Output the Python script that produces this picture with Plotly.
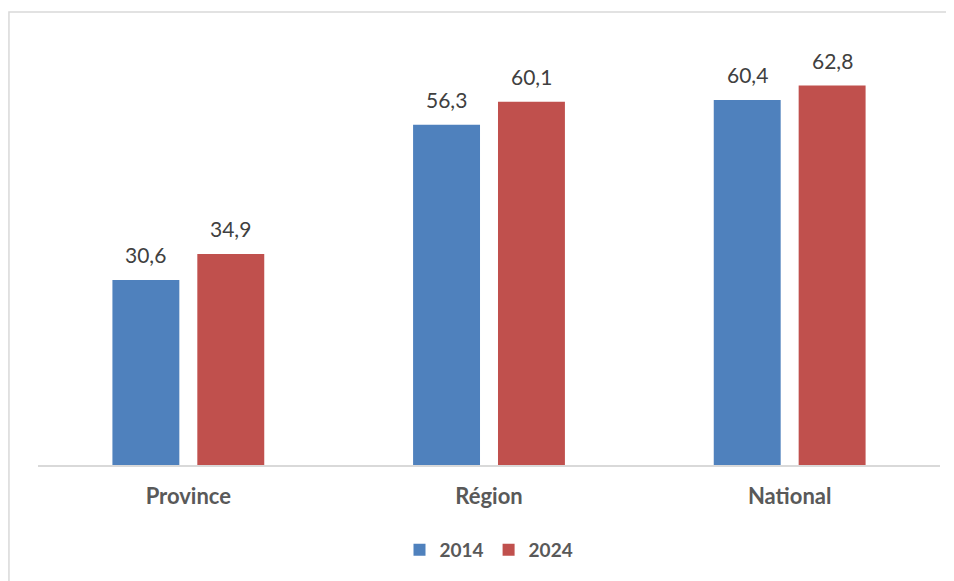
import plotly.graph_objects as go

categories = ["Province", "Région", "National"]
years = ["2014", "2024"]
values_2014 = [30.6, 56.3, 60.4]
values_2024 = [34.9, 60.1, 62.8]
colors = ["#4F81BD", "#C0504D"]

FONT = "Lato"
bar_w = 0.2226
offsets = [-0.2525, 0.0299]
series = [values_2014, values_2024]

fig = go.Figure()
for yr, vals, col, off in zip(years, series, colors, offsets):
    fig.add_trace(go.Bar(
        x=categories, y=vals, name=yr, marker=dict(color=col, line=dict(width=0)),
        width=bar_w, offset=off, hoverinfo="skip",
    ))
    for c, v in zip(categories, vals):
        fig.add_annotation(
            x=c, y=v, text=f"{v:.1f}".replace(".", ","), showarrow=False,
            xref="x", yref="y", xshift=(off + bar_w / 2) * 301, yshift=11,
            yanchor="bottom", font=dict(family=FONT, size=21, color="#404040"),
        )

fig.add_shape(type="rect", xref="paper", yref="paper",
              x0=-0.0322, x1=1.2, y0=-0.6, y1=1.0709,
              line=dict(color="#D9D9D9", width=1.5), fillcolor="rgba(0,0,0,0)", layer="below")

fig.update_layout(
    width=946, height=573,
    margin=dict(l=30, r=14, t=34, b=116),
    paper_bgcolor="white", plot_bgcolor="white",
    barmode="overlay",
    showlegend=True,
    legend=dict(orientation="h", x=0.5, xanchor="center", y=-0.201, yanchor="middle",
                font=dict(family=FONT, size=19, color="#595959", weight="bold"),
                itemwidth=30, traceorder="normal"),
    xaxis=dict(showline=True, linecolor="#D9D9D9", linewidth=1.5, showgrid=False,
               ticks="outside", ticklen=11, tickcolor="rgba(0,0,0,0)",
               tickfont=dict(family=FONT, size=22, color="#595959", weight="bold"),
               range=[-0.5, 2.5]),
    yaxis=dict(range=[0, 70], visible=False, showgrid=False),
)

fig.write_html("out.html")
